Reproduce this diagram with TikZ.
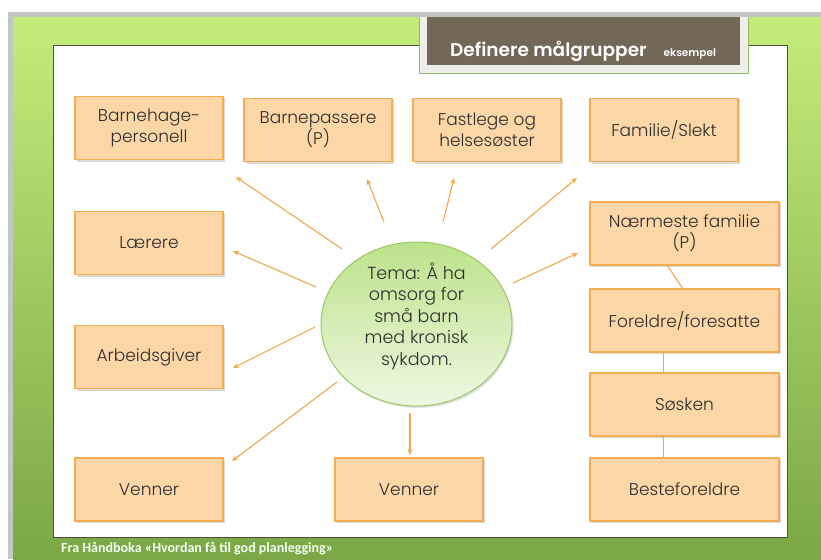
\documentclass[tikz,border=0pt]{standalone}
\usepackage{fontspec}
\setmainfont{Poppins}[UprightFont={* Light}, BoldFont={* SemiBold}]
\newfontfamily\footfont{Carlito}
\usetikzlibrary{arrows.meta,calc,shapes.geometric,shadows}
\definecolor{boxfill}{HTML}{FBD6A6}
\definecolor{boxline}{HTML}{F4AE52}
\definecolor{arrowc}{HTML}{F2A84A}
\definecolor{txt}{HTML}{2E2E2E}
\definecolor{titlebg}{HTML}{736858}
\definecolor{titlerim}{HTML}{EEEEEA}
\definecolor{greenTop}{HTML}{C4EC7A}
\definecolor{greenBot}{HTML}{7BA746}
\definecolor{circTop}{HTML}{BDE28A}
\definecolor{circBot}{HTML}{EEF8E2}
\definecolor{circLine}{HTML}{98C866}
\definecolor{framegray}{HTML}{C4C6C4}
\tikzset{
  box/.style={draw=boxline, line width=1.2pt, fill=boxfill, minimum width=148pt,
    minimum height=63pt, inner sep=0pt, align=center, text=txt,
    font=\fontsize{17}{21}\selectfont,
    drop shadow={shadow xshift=2pt, shadow yshift=-2pt, fill=black, opacity=0.15}},
  widebox/.style={box, minimum width=189pt},
  arr/.style={draw=arrowc, line width=1.1pt, -{Stealth[length=6pt,width=5pt]}},
  link/.style={draw=arrowc, line width=1.1pt},
}
\begin{document}
\begin{tikzpicture}[x=1pt,y=-1pt]
\useasboundingbox (0,0) rectangle (821,559);
\fill[white] (0,0) rectangle (821,559);
% slide frame
\fill[framegray] (8,12) rectangle (821,559);
\shade[top color=greenTop, bottom color=greenBot] (13,18) rectangle (821,559);
% white panel
\draw[fill=white, draw=black!70, line width=0.8pt] (53,45) rectangle (787,537);
% title tab
\fill[titlerim] (419,17) rectangle (748,73);
\draw[draw=greenBot!80, line width=0.6pt] (419,17) -- (419,73) -- (748,73) -- (748,17);
\fill[titlebg] (427,17) rectangle (740,65);
\node[anchor=base west, inner sep=0pt, text=white] (title) at (450,57)
  {{\fontsize{18.5}{20}\selectfont\bfseries Definere målgrupper}\hspace{17pt}{\fontsize{10.5}{12}\selectfont\bfseries eksempel}};
% footer
\node[anchor=base west, inner sep=0pt, text=white!95!green] (foot) at (61,552)
  {\footfont\fontsize{14}{16}\selectfont\bfseries Fra Håndboka «Hvordan få til god planlegging»};

% boxes
\node[box] (bh) at (149,128) {Barnehage-\\personell};
\node[box] (bp) at (318,130) {Barnepassere\\(P)};
\node[box] (fl) at (487,130) {Fastlege og\\helsesøster};
\node[box] (fs) at (664,130) {Familie/Slekt};
\node[widebox] (nf) at (684.5,233.5) {Nærmeste familie\\(P)};
\node[widebox] (fo) at (684.5,320.5) {Foreldre/foresatte};
\node[widebox] (so) at (684.5,404.5) {Søsken};
\node[widebox] (be) at (684.5,489.5) {Besteforeldre};
\node[box] (la) at (149,243) {Lærere};
\node[box] (ar) at (149,357) {Arbeidsgiver};
\node[box] (v1) at (149,489.5) {Venner};
\node[box] (v2) at (409,489.5) {Venner};

% centre ellipse
\node[ellipse, minimum width=191pt, minimum height=164pt, inner sep=0pt,
  draw=circLine, line width=1pt, top color=circTop, bottom color=circBot,
  drop shadow={shadow xshift=1.5pt, shadow yshift=-2pt, fill=black, opacity=0.12}] (c) at (416.5,324) {};
\node[align=center, text=txt, font=\fontsize{17.5}{21.5}\selectfont, inner sep=0pt] (ct) at (416.5,316)
  {Tema: Å ha\\omsorg for\\små barn\\med kronisk\\sykdom.};

% arrow end points
\coordinate (s1) at (342,249); \coordinate (t1) at (236,177);
\coordinate (s2) at (384,222); \coordinate (t2) at (367,179);
\coordinate (s3) at (443,222); \coordinate (t3) at (454,178);
\coordinate (s4) at (491,249); \coordinate (t4) at (577,178);
\coordinate (s5) at (513,283); \coordinate (t5) at (578,253);
\coordinate (s6) at (316,287); \coordinate (t6) at (233,251);
\coordinate (s7) at (315,327); \coordinate (t7) at (233,368);
\coordinate (s8) at (337,382); \coordinate (t8) at (232,461);
\coordinate (s9) at (410,413); \coordinate (t9) at (410,455);
\foreach \i in {1,...,9} { \draw[arr] (s\i) -- (t\i); }

% family chain
\draw[link] ($(nf.south west)!0.41!(nf.south east)$) -- ($(fo.north west)!0.49!(fo.north east)$);
\draw[link] ($(fo.south west)!0.39!(fo.south east)$) -- ($(so.north west)!0.39!(so.north east)$);
\draw[link] ($(so.south west)!0.39!(so.south east)$) -- ($(be.north west)!0.39!(be.north east)$);
\end{tikzpicture}
\end{document}
